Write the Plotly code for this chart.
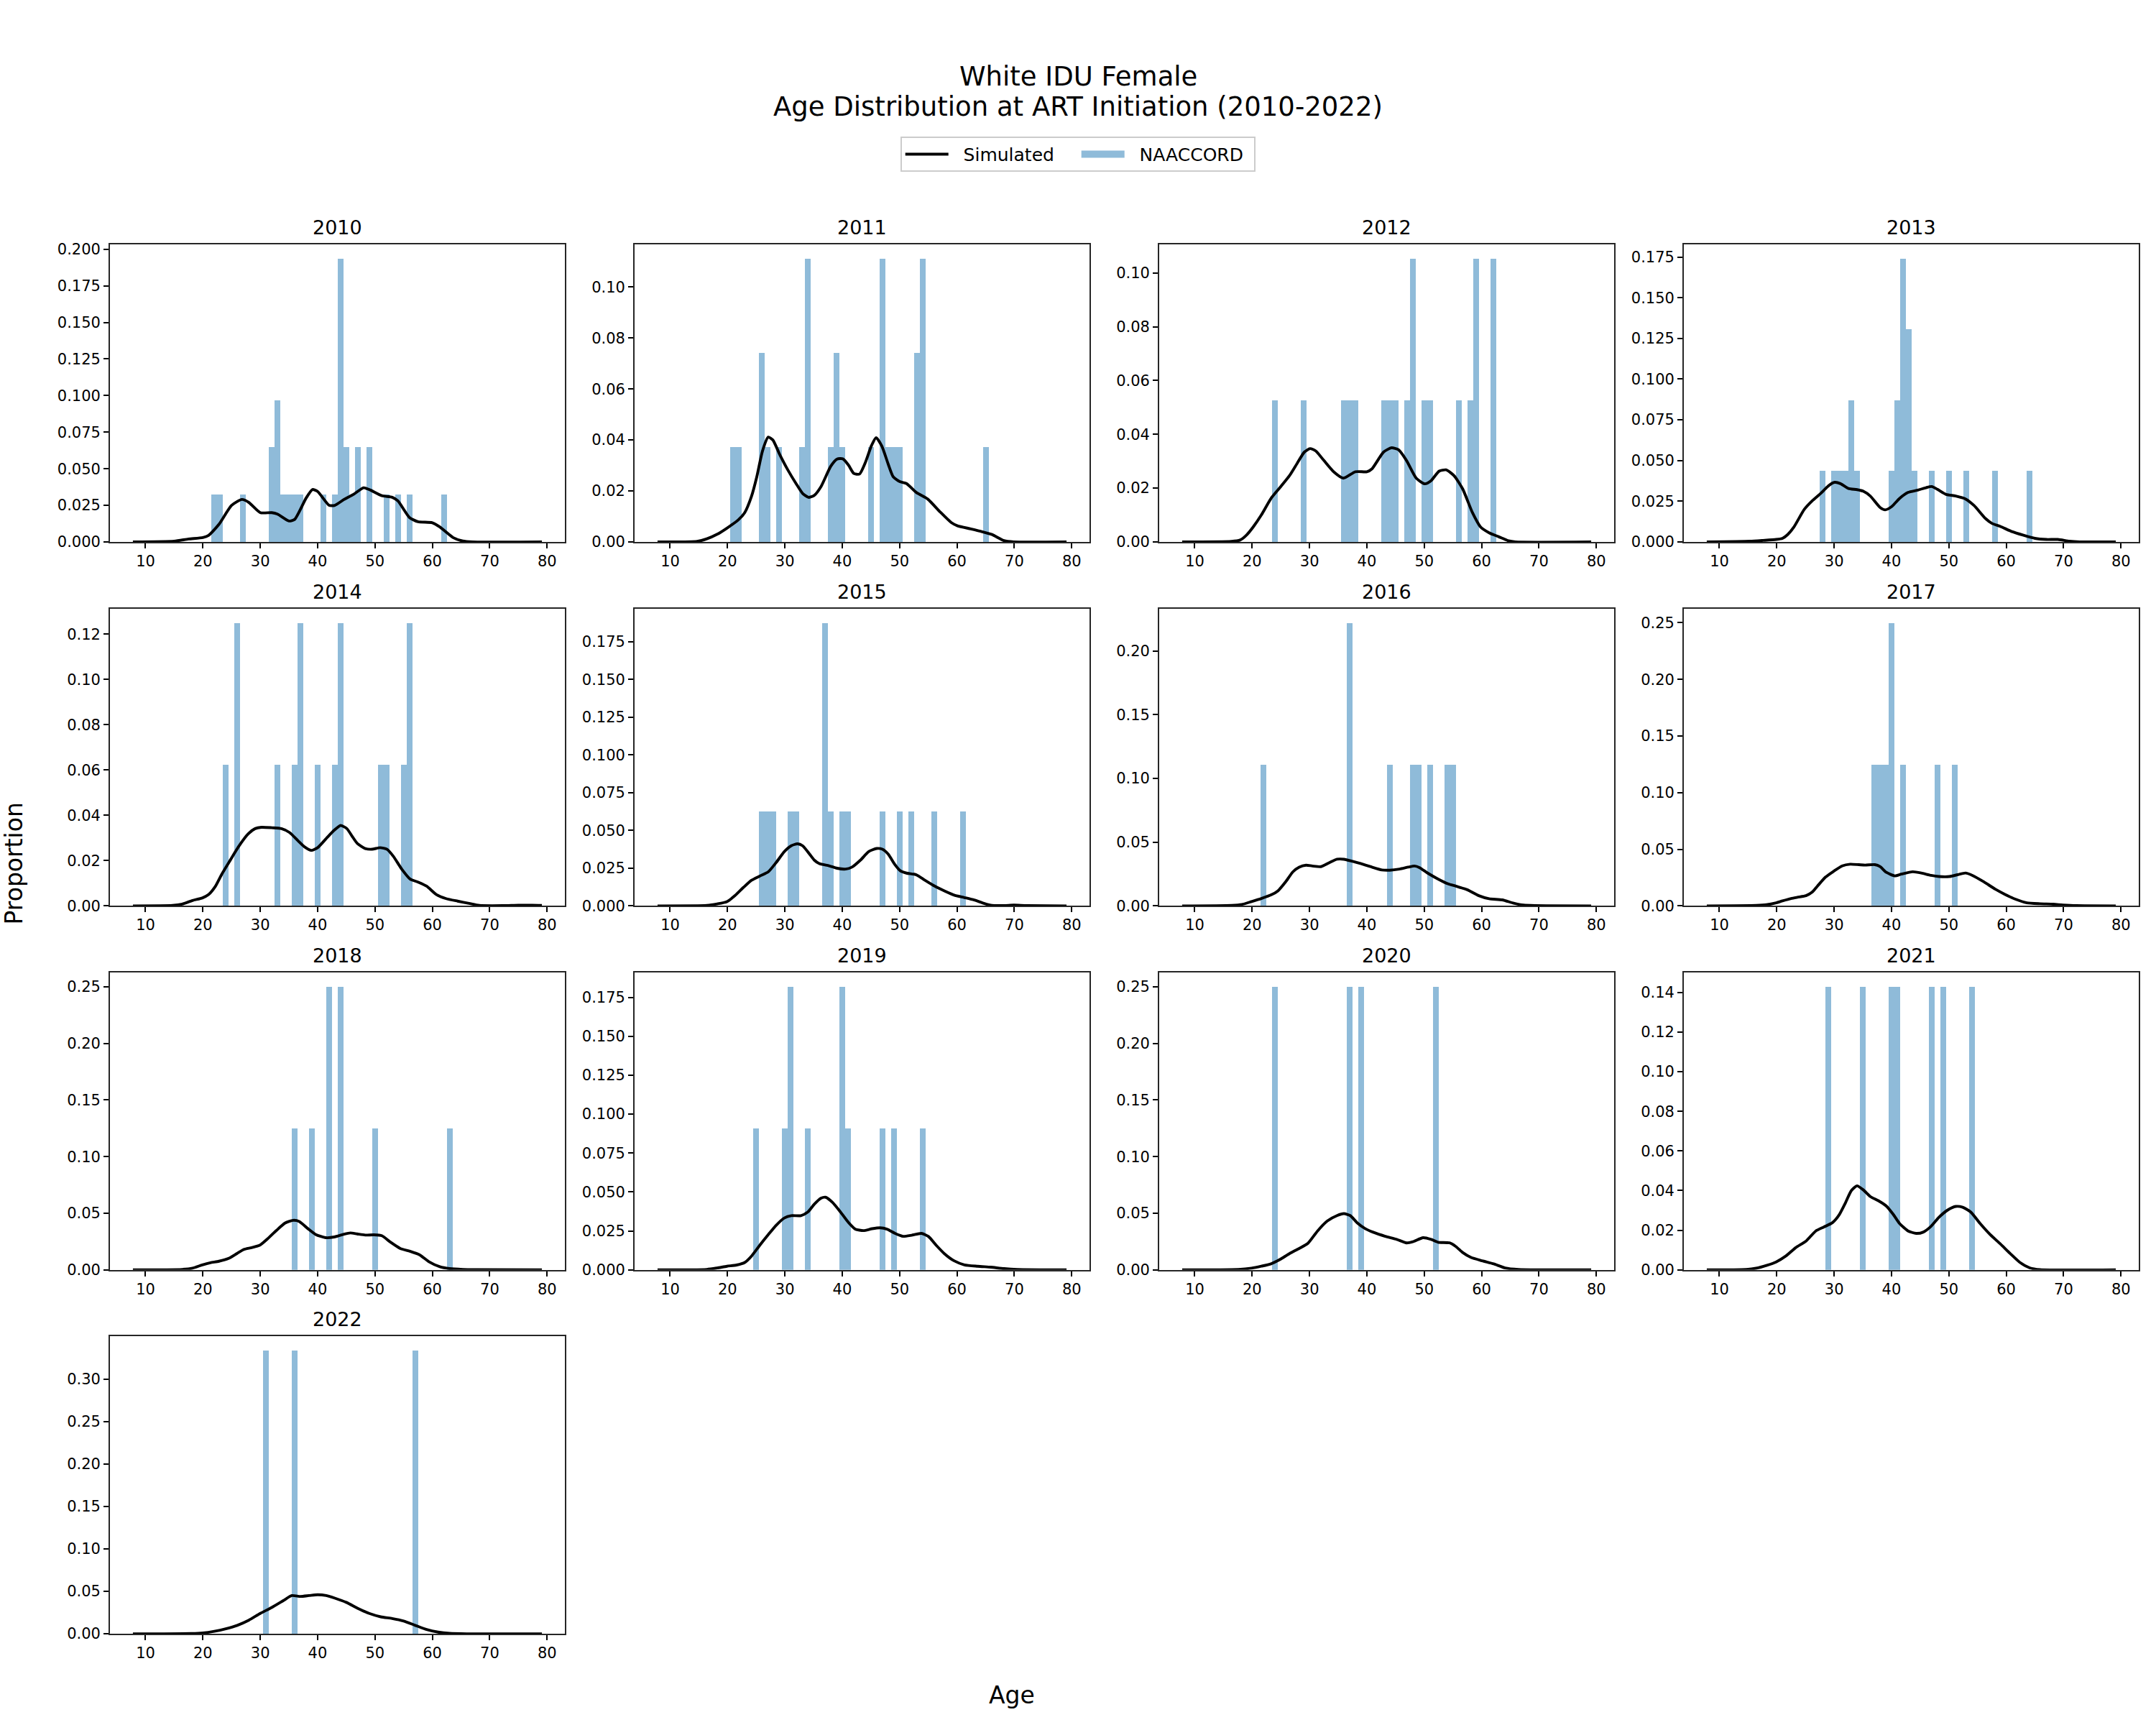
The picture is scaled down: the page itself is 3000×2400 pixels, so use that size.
import plotly.graph_objects as go

years = [2010, 2011, 2012, 2013, 2014, 2015, 2016, 2017, 2018, 2019, 2020, 2021, 2022]

# ---- NAACCORD observed proportions (1-year age bins) ----
naaccord_age_2010 = [22, 23, 27, 32, 33, 34, 35, 36, 37, 41, 43, 44, 45, 46, 47, 49, 52, 54, 56, 62]
naaccord_prop_2010 = [0.0323, 0.0323, 0.0323, 0.0645, 0.0968, 0.0323, 0.0323, 0.0323, 0.0323, 0.0323,
                      0.0323, 0.1935, 0.0645, 0.0323, 0.0645, 0.0645, 0.0323, 0.0323, 0.0323, 0.0323]
naaccord_age_2011 = [21, 22, 26, 27, 29, 33, 34, 38, 39, 40, 45, 47, 48, 49, 50, 53, 54, 65]
naaccord_prop_2011 = [0.0370, 0.0370, 0.0741, 0.0370, 0.0370, 0.0370, 0.1111, 0.0370, 0.0741, 0.0370,
                      0.0370, 0.1111, 0.0370, 0.0370, 0.0370, 0.0741, 0.1111, 0.0370]
naaccord_age_2012 = [24, 29, 36, 37, 38, 43, 44, 45, 47, 48, 50, 51, 56, 58, 59, 62]
naaccord_prop_2012 = [0.0526, 0.0526, 0.0526, 0.0526, 0.0526, 0.0526, 0.0526, 0.0526, 0.0526, 0.1053,
                      0.0526, 0.0526, 0.0526, 0.0526, 0.1053, 0.1053]
naaccord_age_2013 = [28, 30, 31, 32, 33, 34, 40, 41, 42, 43, 44, 47, 50, 53, 58, 64]
naaccord_prop_2013 = [0.0435, 0.0435, 0.0435, 0.0435, 0.0870, 0.0435, 0.0435, 0.0870, 0.1739, 0.1304,
                      0.0435, 0.0435, 0.0435, 0.0435, 0.0435, 0.0435]
naaccord_age_2014 = [24, 26, 33, 36, 37, 40, 43, 44, 51, 52, 55, 56]
naaccord_prop_2014 = [0.0625, 0.125, 0.0625, 0.0625, 0.125, 0.0625, 0.0625, 0.125, 0.0625, 0.0625, 0.0625, 0.125]
naaccord_age_2015 = [26, 27, 28, 31, 32, 37, 38, 40, 41, 47, 50, 52, 56, 61]
naaccord_prop_2015 = [0.0625, 0.0625, 0.0625, 0.0625, 0.0625, 0.1875, 0.0625, 0.0625, 0.0625, 0.0625,
                      0.0625, 0.0625, 0.0625, 0.0625]
naaccord_age_2016 = [22, 37, 44, 48, 49, 51, 54, 55]
naaccord_prop_2016 = [0.1111, 0.2222, 0.1111, 0.1111, 0.1111, 0.1111, 0.1111, 0.1111]
naaccord_age_2017 = [37, 38, 39, 40, 42, 48, 51]
naaccord_prop_2017 = [0.125, 0.125, 0.125, 0.25, 0.125, 0.125, 0.125]
naaccord_age_2018 = [36, 39, 42, 44, 50, 63]
naaccord_prop_2018 = [0.125, 0.125, 0.25, 0.25, 0.125, 0.125]
naaccord_age_2019 = [25, 30, 31, 34, 40, 41, 47, 49, 54]
naaccord_prop_2019 = [0.0909, 0.0909, 0.1818, 0.0909, 0.1818, 0.0909, 0.0909, 0.0909, 0.0909]
naaccord_age_2020 = [24, 37, 39, 52]
naaccord_prop_2020 = [0.25, 0.25, 0.25, 0.25]
naaccord_age_2021 = [29, 35, 40, 41, 47, 49, 54]
naaccord_prop_2021 = [0.1429, 0.1429, 0.1429, 0.1429, 0.1429, 0.1429, 0.1429]
naaccord_age_2022 = [31, 36, 57]
naaccord_prop_2022 = [0.3333, 0.3333, 0.3333]

# ---- Simulated density curves ----
sim_age_2010 = [7.8, 15, 17.5, 20, 21, 22.8, 25, 26.8, 28, 30, 32, 33, 35, 36, 38, 39.1, 40, 42, 43, 44.6,
                46.3, 48, 49, 51.2, 53, 54, 56, 57.5, 60, 61.3, 63.6, 65.3, 67, 79.1]
sim_prop_2010 = [0, 0.0005, 0.002, 0.003, 0.0045, 0.012, 0.025, 0.029, 0.027, 0.020, 0.020, 0.019, 0.0143,
                 0.0154, 0.030, 0.0358, 0.0345, 0.025, 0.025, 0.029, 0.0326, 0.037, 0.0358, 0.0316, 0.0305,
                 0.028, 0.0167, 0.0138, 0.0131, 0.0102, 0.003, 0.0006, 0, 0]
sim_age_2011 = [7.8, 14.7, 16.4, 18.2, 19.9, 21.9, 23, 24.2, 25.1, 26.1, 27.1, 27.9, 29.1, 30.5, 32, 33.1,
                34.1, 35.1, 36.3, 38, 39.1, 40.1, 41.1, 42, 43, 44, 45.1, 45.9, 46.9, 48, 48.9, 50.1, 51.2,
                52.9, 54.9, 57, 59, 60.1, 62.4, 64.4, 66.1, 68.2, 69.9, 79.1]
sim_prop_2011 = [0, 0.0002, 0.0012, 0.003, 0.0054, 0.0087, 0.0115, 0.018, 0.0255, 0.0357, 0.0411, 0.040,
                 0.0343, 0.0283, 0.0227, 0.019, 0.0175, 0.0182, 0.0217, 0.0297, 0.0325, 0.0326, 0.0301,
                 0.0269, 0.0266, 0.031, 0.0378, 0.0409, 0.0376, 0.0306, 0.0255, 0.0236, 0.0229, 0.0194,
                 0.0168, 0.0119, 0.0076, 0.0063, 0.0051, 0.004, 0.0029, 0.0005, 0, 0]
sim_age_2012 = [7.8, 16.4, 17.9, 19, 20.2, 21.6, 23.3, 24.8, 26.5, 27.9, 29.1, 30.1, 31.1, 32.5, 34.3, 35.9,
                38, 40, 40.9, 42.9, 44.3, 45.5, 46.9, 48.6, 50.1, 51.2, 52.6, 53.8, 55.2, 56.7, 58.4, 59.8,
                61.3, 63, 64.7, 65.9, 79.1]
sim_prop_2012 = [0, 0.0002, 0.0007, 0.0025, 0.0056, 0.010, 0.0162, 0.0201, 0.0246, 0.0294, 0.0334, 0.0347,
                 0.0338, 0.0303, 0.0259, 0.0237, 0.0261, 0.0261, 0.0272, 0.0334, 0.035, 0.0343, 0.0303,
                 0.0237, 0.0216, 0.0228, 0.0263, 0.0268, 0.0246, 0.0197, 0.0109, 0.0056, 0.0034, 0.0019,
                 0.0004, 0, 0]
sim_age_2013 = [7.8, 15.3, 17.6, 19.9, 21, 21.9, 23, 24.8, 26.2, 27.6, 29.1, 30.1, 31.1, 32.5, 34, 35.1,
                36.3, 38, 38.9, 40, 41.4, 42.9, 44.6, 46, 47, 48, 49.5, 51.2, 52.9, 54.4, 56.4, 57.5, 59,
                61, 63, 65, 67, 69, 71, 72.8, 79.1]
sim_prop_2013 = [0, 0.0004, 0.0009, 0.0015, 0.0022, 0.0045, 0.0092, 0.020, 0.0253, 0.0296, 0.0347, 0.0366,
                 0.0358, 0.0328, 0.0321, 0.0311, 0.0282, 0.0212, 0.0197, 0.0216, 0.0267, 0.0304, 0.0318,
                 0.0333, 0.034, 0.0323, 0.0292, 0.0282, 0.0264, 0.0223, 0.0143, 0.0114, 0.0095, 0.0063,
                 0.0041, 0.0022, 0.0015, 0.0015, 0.0004, 0, 0]
sim_age_2014 = [7.8, 14.7, 16.4, 18.2, 19.9, 21, 22.2, 23.3, 24.8, 26.2, 27.9, 29.1, 30.2, 32, 33.7, 35.1,
                36.6, 37.7, 38.9, 40, 41.7, 42.9, 44, 45.1, 46, 46.9, 48.3, 49.5, 50.9, 52.1, 53.2, 54.7,
                56.1, 57.5, 59, 60.7, 62.4, 64.4, 66.4, 68.2, 72.2, 75, 77.4, 79.1]
sim_prop_2014 = [0, 0.0002, 0.0008, 0.0024, 0.0035, 0.005, 0.0087, 0.014, 0.0203, 0.0261, 0.0318, 0.0341,
                 0.0347, 0.0345, 0.0341, 0.0324, 0.0287, 0.0261, 0.0245, 0.0257, 0.0303, 0.0334, 0.0355,
                 0.0341, 0.0308, 0.0276, 0.0253, 0.025, 0.0257, 0.025, 0.0219, 0.0161, 0.0119, 0.0105,
                 0.0087, 0.005, 0.0032, 0.0021, 0.0011, 0.0002, 0.0001, 0.0003, 0.0003, 0.0002]
sim_age_2015 = [7.8, 16.4, 18.2, 19.9, 21.3, 22.8, 24.2, 25.6, 27.1, 28.5, 29.9, 31.1, 32.2, 33.1, 34.3,
                35.1, 36, 37.7, 39.1, 40.6, 41.7, 43.2, 44.6, 46, 47, 48, 49.2, 50.1, 51.2, 52.9, 54.4,
                56.1, 57.8, 59.5, 61.3, 63, 64.7, 66.1, 68.2, 69.9, 72.2, 79.1]
sim_prop_2015 = [0, 0.0003, 0.0013, 0.0028, 0.0068, 0.0123, 0.017, 0.0197, 0.0225, 0.0288, 0.0359, 0.0398,
                 0.0411, 0.0398, 0.0343, 0.0304, 0.028, 0.0265, 0.0249, 0.0244, 0.0257, 0.0304, 0.0359,
                 0.038, 0.0375, 0.0343, 0.0272, 0.0233, 0.0217, 0.0206, 0.017, 0.0131, 0.0099, 0.0071,
                 0.0055, 0.0039, 0.0017, 0.0003, 0.0002, 0.0005, 0.0002, 0]
sim_age_2016 = [7.8, 16.4, 18.2, 19.9, 21.6, 23.3, 24.5, 25.9, 27.1, 28.2, 29.4, 30.5, 32, 33.4, 34.8, 36,
                37.4, 38.9, 40.6, 42.6, 44, 45.7, 47.2, 48.3, 49.2, 50.6, 52.4, 54.1, 55.5, 57.5, 59.5,
                61.3, 63.6, 65.6, 67.3, 69.3, 79.1]
sim_prop_2016 = [0, 0.0004, 0.0011, 0.0034, 0.0058, 0.0086, 0.0118, 0.0192, 0.0267, 0.0304, 0.0319, 0.0313,
                 0.0308, 0.0338, 0.0366, 0.0366, 0.0351, 0.0332, 0.0308, 0.0282, 0.028, 0.0289, 0.0304,
                 0.0313, 0.030, 0.0257, 0.0211, 0.0174, 0.0155, 0.0127, 0.008, 0.0056, 0.0047, 0.0021,
                 0.0006, 0.0002, 0]
sim_age_2017 = [7.8, 16.4, 18.2, 19.9, 21, 22.5, 23.6, 25.1, 26.2, 27.1, 28.5, 29.9, 31.4, 32.8, 34.3,
                35.4, 37.1, 38, 39.1, 40.6, 41.7, 43.7, 45.2, 46.9, 48.3, 50.1, 51.5, 52.9, 54.1, 56.1,
                58.1, 59.8, 61.6, 63.6, 65.9, 68.2, 69.9, 72.2, 79.1]
sim_prop_2017 = [0, 0.0004, 0.001, 0.0027, 0.0044, 0.0065, 0.0076, 0.009, 0.0122, 0.0175, 0.0254, 0.0305,
                 0.0353, 0.0368, 0.0364, 0.036, 0.0364, 0.0347, 0.0296, 0.0265, 0.028, 0.0301, 0.029,
                 0.0269, 0.0259, 0.0259, 0.0275, 0.029, 0.0269, 0.0212, 0.0147, 0.0101, 0.0059, 0.0027,
                 0.0019, 0.0015, 0.0008, 0.0002, 0]
sim_age_2018 = [7.8, 16.4, 18.2, 19.9, 21.3, 22.8, 24.5, 25.9, 27.1, 28.5, 29.9, 31.4, 32.8, 34.3, 35.7,
                36.8, 38.3, 39.7, 41.4, 42.9, 44.6, 45.7, 46.9, 48.3, 49.8, 51.2, 52.6, 54.4, 56.1, 57.8,
                59.5, 61.3, 63, 65.3, 67.6, 79.1]
sim_prop_2018 = [0, 0.0004, 0.0015, 0.0044, 0.0063, 0.0076, 0.0101, 0.0143, 0.0179, 0.0196, 0.0217, 0.028,
                 0.0347, 0.0412, 0.0437, 0.0427, 0.0364, 0.0311, 0.0284, 0.029, 0.0315, 0.0326, 0.0317,
                 0.0307, 0.0309, 0.0301, 0.0248, 0.0189, 0.0164, 0.0132, 0.0069, 0.0027, 0.0011, 0.0004,
                 0.0002, 0]
sim_age_2019 = [7.8, 16.4, 18.2, 19.9, 21.6, 23, 24.2, 25.6, 27.1, 28.5, 29.9, 31.1, 32.8, 34, 35.1, 36.3,
                37.1, 38.3, 39.7, 41.1, 42.3, 43.7, 45.2, 46.6, 47.8, 49.2, 50.6, 52.1, 53.8, 55, 56.4,
                57.8, 59.5, 61.3, 63.6, 65.9, 68.2, 70.5, 79.1]
sim_prop_2019 = [0, 0.0003, 0.0012, 0.0023, 0.0031, 0.0047, 0.0089, 0.0157, 0.0226, 0.0287, 0.0333, 0.0348,
                 0.0348, 0.0371, 0.042, 0.046, 0.0466, 0.0433, 0.0371, 0.0303, 0.0261, 0.0252, 0.0264,
                 0.027, 0.0261, 0.0234, 0.0215, 0.0222, 0.0234, 0.0215, 0.0157, 0.0104, 0.0058, 0.0032,
                 0.0023, 0.0017, 0.0008, 0.0003, 0]
sim_age_2020 = [7.8, 17.6, 19.9, 21.6, 23.3, 24.8, 26.5, 28.2, 29.7, 31.4, 33.1, 34.8, 36, 37.1, 38.3,
                39.7, 41.1, 43.2, 45.2, 46.9, 48, 49.8, 51.2, 52.4, 54.4, 55.5, 56.7, 58.1, 60.1, 62.1,
                64.1, 66.4, 79.1]
sim_prop_2020 = [0, 0.0004, 0.0015, 0.0032, 0.0053, 0.009, 0.0143, 0.0189, 0.0233, 0.0343, 0.0431, 0.0479,
                 0.0496, 0.0479, 0.0416, 0.0364, 0.0332, 0.0296, 0.0269, 0.0238, 0.0248, 0.0284, 0.0269,
                 0.0244, 0.0238, 0.0206, 0.0153, 0.0111, 0.008, 0.0053, 0.0017, 0.0004, 0]
sim_age_2021 = [7.8, 14.7, 16.4, 18.2, 19.9, 21.6, 23.3, 25.1, 26.8, 28.2, 29.7, 30.8, 32, 33, 34, 35.1,
                36.3, 37.7, 39.1, 40.3, 41.4, 42.9, 44.3, 45.5, 46.9, 48.3, 49.8, 51.2, 52.4, 53.8, 55.5,
                57.2, 59, 60.7, 62.4, 64.1, 65.9, 79.1]
sim_prop_2021 = [0, 0.0002, 0.0008, 0.0022, 0.004, 0.007, 0.0112, 0.0145, 0.0196, 0.0216, 0.0238, 0.0274,
                 0.034, 0.040, 0.0424, 0.0403, 0.037, 0.0349, 0.0322, 0.028, 0.0234, 0.0196, 0.0184, 0.019,
                 0.022, 0.0266, 0.0302, 0.032, 0.0316, 0.0292, 0.0232, 0.0178, 0.013, 0.0082, 0.0037,
                 0.001, 0.0001, 0]
sim_age_2022 = [7.8, 18, 20, 22, 24, 26, 28, 30, 32, 34, 35.5, 37, 38.5, 40, 41.5, 43, 45, 47, 49, 51, 53,
                55, 57, 59, 61, 63, 66, 79.1]
sim_prop_2022 = [0, 0.0003, 0.001, 0.003, 0.006, 0.010, 0.016, 0.024, 0.031, 0.039, 0.045, 0.044, 0.045,
                 0.046, 0.045, 0.042, 0.037, 0.030, 0.024, 0.020, 0.018, 0.015, 0.010, 0.005, 0.002,
                 0.0005, 0, 0]

# y tick spacing / format per panel (as in the reference)
ytick_step = [0.025, 0.02, 0.02, 0.025, 0.02, 0.025, 0.05, 0.05, 0.05, 0.025, 0.05, 0.02, 0.05]
ytick_fmt = [".3f", ".2f", ".2f", ".3f", ".2f", ".3f", ".2f", ".2f", ".2f", ".3f", ".2f", ".2f", ".2f"]
xtick_vals = [10, 20, 30, 40, 50, 60, 70, 80]

naaccord_age = [naaccord_age_2010, naaccord_age_2011, naaccord_age_2012, naaccord_age_2013, naaccord_age_2014,
                naaccord_age_2015, naaccord_age_2016, naaccord_age_2017, naaccord_age_2018, naaccord_age_2019,
                naaccord_age_2020, naaccord_age_2021, naaccord_age_2022]
naaccord_prop = [naaccord_prop_2010, naaccord_prop_2011, naaccord_prop_2012, naaccord_prop_2013,
                 naaccord_prop_2014, naaccord_prop_2015, naaccord_prop_2016, naaccord_prop_2017,
                 naaccord_prop_2018, naaccord_prop_2019, naaccord_prop_2020, naaccord_prop_2021,
                 naaccord_prop_2022]
sim_age = [sim_age_2010, sim_age_2011, sim_age_2012, sim_age_2013, sim_age_2014, sim_age_2015, sim_age_2016,
           sim_age_2017, sim_age_2018, sim_age_2019, sim_age_2020, sim_age_2021, sim_age_2022]
sim_prop = [sim_prop_2010, sim_prop_2011, sim_prop_2012, sim_prop_2013, sim_prop_2014, sim_prop_2015,
            sim_prop_2016, sim_prop_2017, sim_prop_2018, sim_prop_2019, sim_prop_2020, sim_prop_2021,
            sim_prop_2022]

W, H = 3000, 2400
col_left = [153, 883, 1613, 2343]
col_w = 633
row_top = [337.7, 847.7, 1357.7, 1867.7]
row_h = 416.6

FONT = "DejaVu Sans"
BAR_COLOR = "rgba(31,119,180,0.5)"
NBSP = "\u00a0\u00a0"

fig = go.Figure()
layout_axes = {}
annotations = []

for i, yr in enumerate(years):
    r, c = divmod(i, 4)
    k = i + 1
    xa = "x" if k == 1 else f"x{k}"
    ya = "y" if k == 1 else f"y{k}"
    xname = "xaxis" if k == 1 else f"xaxis{k}"
    yname = "yaxis" if k == 1 else f"yaxis{k}"

    fig.add_trace(go.Bar(
        x=naaccord_age[i], y=naaccord_prop[i], width=1.0,
        marker=dict(color=BAR_COLOR, line=dict(width=0)),
        name="NAACCORD", showlegend=False,
        xaxis=xa, yaxis=ya))
    fig.add_trace(go.Scatter(
        x=sim_age[i], y=sim_prop[i], mode="lines",
        line=dict(color="black", width=3.9, shape="spline", smoothing=0.6),
        name=NBSP + "Simulated", showlegend=(i == 0), legendrank=1,
        xaxis=xa, yaxis=ya))

    x0 = col_left[c] / W
    x1 = (col_left[c] + col_w) / W
    y1 = 1 - row_top[r] / H
    y0 = 1 - (row_top[r] + row_h) / H
    ymax = max(naaccord_prop[i]) * 1.05

    layout_axes[xname] = dict(
        domain=[x0, x1], anchor=ya, range=[3.8, 83.1],
        tickmode="array", tickvals=xtick_vals, ticks="outside", ticklen=7, tickwidth=1.7,
        tickcolor="black", showline=True, linecolor="#262626", linewidth=1.7, mirror=True,
        showgrid=False, zeroline=False, tickfont=dict(family=FONT, size=21, color="black"))
    layout_axes[yname] = dict(
        domain=[y0, y1], anchor=xa, range=[0, ymax],
        tick0=0, dtick=ytick_step[i], tickformat=ytick_fmt[i], ticks="outside", ticklen=7,
        tickwidth=1.7, tickcolor="black", showline=True, linecolor="#262626", linewidth=1.7,
        mirror=True, showgrid=False, zeroline=False,
        tickfont=dict(family=FONT, size=21, color="black"))

    annotations.append(dict(
        text=str(yr), x=(x0 + x1) / 2, y=y1, xref="paper", yref="paper",
        xanchor="center", yanchor="bottom", yshift=6, showarrow=False,
        font=dict(family=FONT, size=27, color="black")))

# legend-only entry drawn as a wide translucent patch (like a bar patch)
fig.add_trace(go.Scatter(
    x=[None], y=[None], mode="lines",
    line=dict(color=BAR_COLOR, width=17),
    name=NBSP + "NAACCORD", showlegend=True, legendrank=2, xaxis="x", yaxis="y"))

annotations.append(dict(text="White IDU Female", x=0.5, y=1 - 102 / H, xref="paper", yref="paper",
                        xanchor="center", yanchor="middle", showarrow=False,
                        font=dict(family=FONT, size=37, color="black")))
annotations.append(dict(text="Age Distribution at ART Initiation (2010-2022)", x=0.5, y=1 - 145 / H,
                        xref="paper", yref="paper", xanchor="center", yanchor="middle", showarrow=False,
                        font=dict(family=FONT, size=37, color="black")))
annotations.append(dict(text="Age", x=1408 / W, y=1 - 2370 / H, xref="paper", yref="paper",
                        xanchor="center", yanchor="middle", showarrow=False,
                        font=dict(family=FONT, size=33, color="black")))
annotations.append(dict(text="Proportion", x=19 / W, y=1 - 1205 / H, xref="paper", yref="paper",
                        xanchor="center", yanchor="middle", textangle=-90, showarrow=False,
                        font=dict(family=FONT, size=33, color="black")))

fig.update_layout(
    width=W, height=H,
    margin=dict(l=0, r=0, t=0, b=0),
    paper_bgcolor="white", plot_bgcolor="white",
    barmode="overlay", bargap=0,
    legend=dict(orientation="h", x=0.5, xanchor="center", y=1 - 211 / H, yanchor="middle",
                bordercolor="#cccccc", borderwidth=1.7, bgcolor="white",
                font=dict(family=FONT, size=25, color="black"), itemwidth=60,
                entrywidth=170, entrywidthmode="pixels",
                traceorder="normal"),
    annotations=annotations,
    showlegend=True,
    **layout_axes,
)

fig.write_html("out.html")
